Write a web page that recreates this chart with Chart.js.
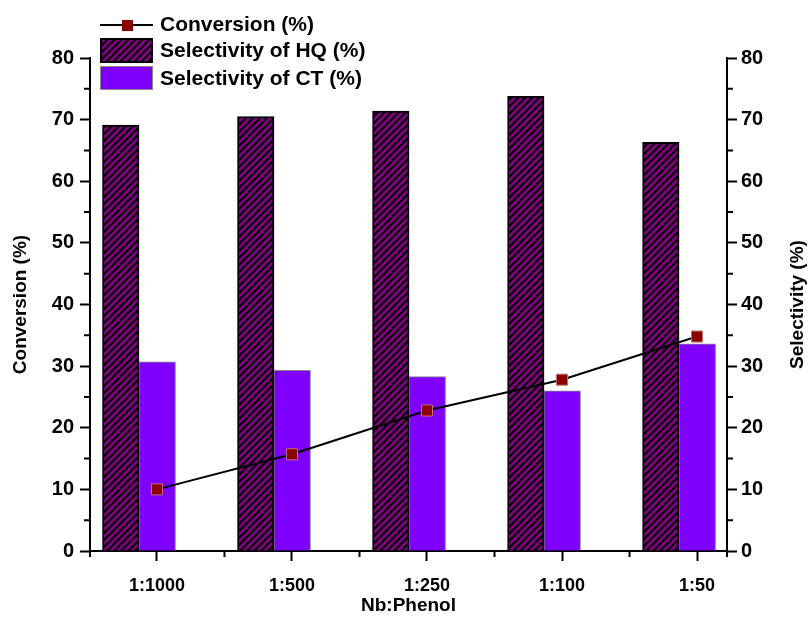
<!DOCTYPE html>
<html>
<head>
<meta charset="utf-8">
<script src="https://cdn.jsdelivr.net/npm/chart.js@4.4.1/dist/chart.umd.min.js"></script>
<style>
  html, body { margin: 0; padding: 0; background: #fff; }
  #wrap { width: 810px; height: 623px; }
</style>
</head>
<body>
<div id="wrap"><canvas id="myChart" width="810" height="623"></canvas></div>
<script>
// values
var ratios = ['1:1000', '1:500', '1:250', '1:100', '1:50'];
var conversion = [10.0, 15.7, 22.8, 27.8, 34.8];
var selHQ = [69.1, 70.5, 71.4, 73.8, 66.3];
var selCT = [30.7, 29.3, 28.3, 26.0, 33.6];
var yTicks = [0, 10, 20, 30, 40, 50, 60, 70, 80];

var FONT = '"Liberation Sans", Arial, sans-serif';
var HQ_PURPLE = '#800080';
var CT_VIOLET = '#8000ff';
var MARK_RED = '#8b0000';

function hatch(bg, fg) {
  var c = document.createElement('canvas');
  c.width = 7; c.height = 7;
  var g = c.getContext('2d');
  g.fillStyle = bg;
  g.fillRect(0, 0, 7, 7);
  g.strokeStyle = fg;
  g.lineWidth = 2;
  g.beginPath();
  g.moveTo(-1, 8); g.lineTo(8, -1);
  g.moveTo(-2, 2); g.lineTo(2, -2);
  g.moveTo(5, 9); g.lineTo(9, 5);
  g.stroke();
  return g.createPattern(c, 'repeat');
}
var hqFill = hatch(HQ_PURPLE, '#000');

function pts(arr) {
  return arr.map(function (v, i) { return { x: i, y: v }; });
}
function idxTicks(s) {
  s.ticks = ratios.map(function (r, i) { return { value: i }; });
}
function valTicks(s) {
  s.ticks = yTicks.map(function (v) { return { value: v }; });
}

// minor ticks, legend and right axis title
var extras = {
  id: 'extras',
  afterDraw: function (chart) {
    var ctx = chart.ctx, a = chart.chartArea;
    var sx = chart.scales.x, sy = chart.scales.y;
    ctx.save();
    ctx.strokeStyle = '#000';
    ctx.lineWidth = 2;
    ctx.beginPath();
    for (var v = 5; v < 80; v += 10) {
      var py = sy.getPixelForValue(v);
      ctx.moveTo(a.left - 6, py); ctx.lineTo(a.left, py);
      ctx.moveTo(a.right, py); ctx.lineTo(a.right + 6, py);
    }
    var minors = [sx.min, sx.max];
    for (var i = 0; i < ratios.length - 1; i++) minors.push(i + 0.5);
    minors.forEach(function (m) {
      var px = sx.getPixelForValue(m);
      ctx.moveTo(px, a.bottom); ctx.lineTo(px, a.bottom + 6);
    });
    ctx.stroke();

    // legend
    ctx.lineWidth = 2;
    ctx.beginPath();
    ctx.moveTo(100, 25); ctx.lineTo(153, 25);
    ctx.stroke();
    ctx.fillStyle = MARK_RED;
    ctx.fillRect(122, 20, 11, 11);
    ctx.fillStyle = hqFill;
    ctx.fillRect(101, 39, 51, 23);
    ctx.strokeRect(101, 39, 51, 23);
    ctx.fillStyle = CT_VIOLET;
    ctx.fillRect(101, 67, 51, 22);
    ctx.strokeStyle = '#888';
    ctx.lineWidth = 1;
    ctx.strokeRect(100.5, 66.5, 52, 23);

    ctx.fillStyle = '#000';
    ctx.font = 'bold 21px ' + FONT;
    ctx.textBaseline = 'middle';
    ctx.textAlign = 'left';
    ctx.fillText(chart.data.datasets[0].label, 160, 25);
    ctx.fillText(chart.data.datasets[1].label, 160, 51);
    ctx.fillText(chart.data.datasets[2].label, 160, 79);

    // right title, reading upwards like the left one
    ctx.font = 'bold 19px ' + FONT;
    ctx.textAlign = 'center';
    ctx.translate(798, (a.top + a.bottom) / 2);
    ctx.rotate(-Math.PI / 2);
    ctx.fillText('Selectivity (%)', 0, 0);
    ctx.restore();
  }
};

var ctx = document.getElementById('myChart');
var myChart = new Chart(ctx, {
  type: 'bar',
  data: {
    datasets: [{
      type: 'line',
      label: 'Conversion (%)',
      data: pts(conversion),
      xAxisID: 'x',
      yAxisID: 'y',
      borderColor: '#000',
      borderWidth: 2,
      pointStyle: 'rect',
      pointRadius: 7.8,
      pointBackgroundColor: MARK_RED,
      pointBorderColor: '#c07070',
      pointBorderWidth: 1,
      fill: false,
      order: 0
    }, {
      label: 'Selectivity of HQ (%)',
      data: pts(selHQ),
      xAxisID: 'xb',
      yAxisID: 'y2',
      backgroundColor: hqFill,
      borderColor: '#000',
      borderWidth: 2,
      barThickness: 36.5,
      order: 1
    }, {
      label: 'Selectivity of CT (%)',
      data: pts(selCT),
      xAxisID: 'xb',
      yAxisID: 'y2',
      backgroundColor: CT_VIOLET,
      borderColor: '#888',
      borderWidth: 1,
      barThickness: 36.5,
      order: 2
    }]
  },
  options: {
    responsive: false,
    animation: false,
    layout: { padding: { top: 58, left: 0, right: 0, bottom: 0 } },
    plugins: {
      legend: { display: false },
      tooltip: { enabled: false }
    },
    scales: {
      x: {
        type: 'linear',
        position: 'bottom',
        offset: false,
        min: -0.496,
        max: 4.222,
        afterBuildTicks: idxTicks,
        afterFit: function (s) { s.height = 72; },
        ticks: {
          callback: function (v) { return ratios[v]; },
          color: '#000',
          padding: 14,
          maxRotation: 0,
          font: { family: FONT, size: 18, weight: 'bold' }
        },
        grid: { offset: false, drawOnChartArea: false, tickLength: 10, tickColor: '#000', tickWidth: 2 },
        border: { display: true, color: '#000', width: 2 },
        title: {
          display: true, text: 'Nb:Phenol', color: '#000',
          padding: { top: 6, bottom: 6 },
          font: { family: FONT, size: 19, weight: 'bold' }
        }
      },
      xb: {
        type: 'linear',
        display: false,
        offset: false,
        grid: { offset: false },
        min: -0.363,
        max: 4.355,
        afterBuildTicks: idxTicks
      },
      y: {
        position: 'left',
        min: 0,
        max: 80,
        afterBuildTicks: valTicks,
        afterFit: function (s) { s.width = 90; },
        ticks: {
          color: '#000',
          padding: 6,
          font: { family: FONT, size: 20, weight: 'bold' }
        },
        grid: { drawOnChartArea: false, tickLength: 10, tickColor: '#000', tickWidth: 2 },
        border: { display: true, color: '#000', width: 2 },
        title: {
          display: true, text: 'Conversion (%)', color: '#000',
          padding: { top: 9, bottom: 9 },
          font: { family: FONT, size: 19, weight: 'bold' }
        }
      },
      y2: {
        position: 'right',
        min: 0,
        max: 80,
        afterBuildTicks: valTicks,
        afterFit: function (s) { s.width = 83; },
        ticks: {
          color: '#000',
          padding: 4,
          font: { family: FONT, size: 20, weight: 'bold' }
        },
        grid: { drawOnChartArea: false, tickLength: 10, tickColor: '#000', tickWidth: 2 },
        border: { display: true, color: '#000', width: 2 }
      }
    }
  },
  plugins: [extras]
});
</script>
</body>
</html>
